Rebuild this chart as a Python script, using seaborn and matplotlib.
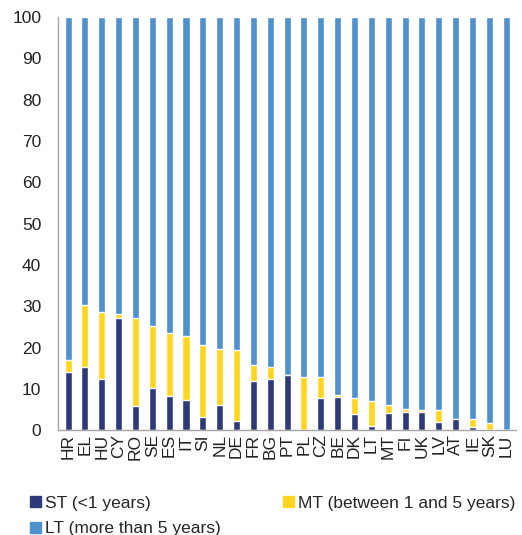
import numpy as np
import pandas as pd
import matplotlib.pyplot as plt
import seaborn as sns
from matplotlib.patches import Patch

countries = ["HR", "EL", "HU", "CY", "RO", "SE", "ES", "IT", "SI", "NL", "DE", "FR", "BG", "PT",
             "PL", "CZ", "BE", "DK", "LT", "MT", "FI", "UK", "LV", "AT", "IE", "SK", "LU"]
st = [14.0, 15.3, 12.3, 27.1, 5.8, 10.2, 8.3, 7.4, 3.2, 6.0, 2.3, 12.0, 12.4, 13.3,
      0.0, 7.8, 8.1, 3.9, 1.1, 4.1, 4.3, 4.5, 1.9, 2.8, 0.7, 0.0, 0.0]
mt = [3.1, 14.9, 16.3, 1.1, 21.4, 15.0, 15.3, 15.4, 17.3, 13.7, 17.2, 3.7, 2.9, 0.0,
      12.9, 5.1, 0.5, 3.8, 6.0, 2.0, 0.8, 0.3, 2.9, 0.0, 2.0, 1.7, 0.0]
lt = [100 - a - b for a, b in zip(st, mt)]

labels = ["ST (<1 years)", "MT (between 1 and 5 years)", "LT (more than 5 years)"]
colors = ["#2E3A78", "#FFD61F", "#4E91CD"]

df = pd.DataFrame({"country": countries, "st": st, "mt": mt, "lt": lt})
df["st_mt"] = df["st"] + df["mt"]
df["total"] = df["st_mt"] + df["lt"]

sns.set_style("white")
plt.rcParams['font.family'] = ['Liberation Sans', 'DejaVu Sans']

fig = plt.figure(figsize=(5.22, 5.35), dpi=100)
ax = fig.add_axes([0.111, 0.196, 0.878, 0.772])

# layered bars: totals first, then cumulative sums on top
sns.barplot(data=df, x="country", y="total", color=colors[2], width=0.42, saturation=1, ax=ax)
sns.barplot(data=df, x="country", y="st_mt", color=colors[1], width=0.42, saturation=1, ax=ax)
sns.barplot(data=df, x="country", y="st", color=colors[0], width=0.42, saturation=1, ax=ax)

ax.set_ylim(0, 100)
ax.set_yticks(range(0, 101, 10))
ax.set_xlim(-0.6, len(countries) - 0.4)
ax.set_xlabel("")
ax.set_ylabel("")
ax.tick_params(axis="y", labelsize=12.5, colors="#222222", length=0, pad=12)
ax.tick_params(axis="x", labelsize=12.5, colors="#222222", length=0, rotation=90, pad=3)
for s in ["top", "right"]:
    ax.spines[s].set_visible(False)
for s in ["left", "bottom"]:
    ax.spines[s].set_color("#A6A6A6")
    ax.spines[s].set_linewidth(1.0)

handles = [Patch(color=colors[0], label=labels[0]),
           Patch(color=colors[2], label=labels[2]),
           Patch(color=colors[1], label=labels[1])]
fig.legend(handles=handles, loc="lower left", bbox_to_anchor=(0.028, -0.032), ncol=2,
           frameon=False, fontsize=12.5, handlelength=0.6, handleheight=0.6,
           handletextpad=0.25, columnspacing=3.6, labelspacing=0.6)

fig.savefig("out.png", dpi=100)
